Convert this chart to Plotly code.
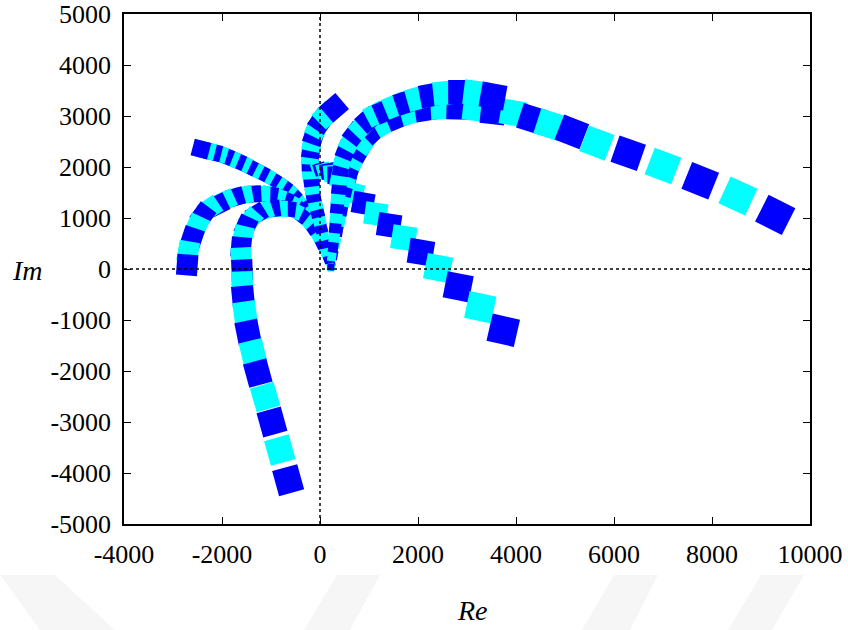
import numpy as np
import plotly.graph_objects as go

# ---- root-locus branches (real part, imaginary part) ----
re_left_upper = [220, 160, 100, 40, -20, -80, -140, -200, -290, -370,
                 -450, -530, -630, -730, -840, -960, -1080, -1200, -1330, -1450,
                 -1570, -1690, -1820, -1940, -2060, -2180, -2310, -2430]
im_left_upper = [40, 200, 350, 510, 670, 800, 940, 1060, 1180, 1270,
                 1370, 1460, 1550, 1620, 1690, 1760, 1830, 1890, 1950, 2010,
                 2070, 2120, 2170, 2220, 2260, 2290, 2320, 2350]

re_left_mid = [220, 220, 180, 120, 40, -40, -140, -240, -350, -450,
               -570, -710, -860, -1020, -1180, -1370, -1550, -1730, -1920, -2080,
               -2240, -2390, -2510, -2610, -2690, -2710]
im_left_mid = [20, 140, 290, 450, 610, 760, 900, 1020, 1130, 1220,
               1300, 1370, 1420, 1460, 1470, 1470, 1450, 1410, 1350, 1260,
               1200, 1060, 850, 610, 340, 80]

re_left_low = [220, 160, 100, 20, -60, -160, -270, -390, -510, -650,
               -820, -980, -1140, -1290, -1410, -1510, -1570, -1610, -1610, -1590,
               -1590, -1570, -1530, -1470, -1370, -1270, -1120, -980, -820, -650]
im_left_low = [40, 200, 350, 510, 670, 820, 960, 1060, 1140, 1180,
               1180, 1180, 1140, 1080, 980, 840, 650, 430, 220, -20,
               -260, -550, -860, -1240, -1630, -2040, -2510, -3000, -3550, -4140]

re_up = [220, 180, 140, 100, 60, 20, -20, -60, -100, -140,
         -160, -180, -200, -200, -200, -180, -160, -120, -60, 20, 120, 290]
im_up = [40, 200, 350, 510, 670, 820, 980, 1140, 1290, 1450,
         1610, 1770, 1920, 2080, 2220, 2350, 2490, 2630, 2770, 2900, 3020, 3160]

re_down = [-80, 0, 80, 160, 240, 330, 410, 510, 670, 880,
           1140, 1410, 1710, 2060, 2410, 2820, 3270, 3740]
im_down = [1980, 1960, 1940, 1920, 1880, 1840, 1780, 1670, 1490, 1290,
           1080, 860, 610, 330, 20, -350, -750, -1200]

re_right = [220, 270, 310, 350, 390, 430, 470, 510, 570, 630,
            710, 800, 900, 1080, 1310, 1570, 1860, 2160, 2490, 2820,
            3160, 3530, 3940, 4330, 4690, 5140, 5650, 6290, 7000, 7760,
            8530, 9290]
im_right = [40, 270, 510, 750, 960, 1180, 1370, 1570, 1760, 1960,
            2140, 2310, 2470, 2690, 2840, 2960, 3060, 3120, 3160, 3160,
            3140, 3080, 3060, 2940, 2830, 2690, 2470, 2270, 2020, 1730,
            1430, 1060]

re_arc = [220, 240, 270, 290, 310, 330, 350, 370, 390, 410,
          430, 470, 530, 610, 710, 840, 980, 1140, 1330, 1530,
          1760, 2000, 2270, 2550, 2860, 3180, 3530]
im_arc = [40, 240, 430, 630, 820, 1020, 1220, 1410, 1610, 1800,
          1980, 2160, 2330, 2490, 2650, 2780, 2920, 3040, 3100, 3200,
          3270, 3350, 3410, 3450, 3470, 3450, 3390]

x_ticks = [-4000, -2000, 0, 2000, 4000, 6000, 8000, 10000]
x_labels = ["-4000", "-2000", "0", "2000", "4000", "6000", "8000", "10000"]
y_ticks = [-5000, -4000, -3000, -2000, -1000, 0, 1000, 2000, 3000, 4000, 5000]
y_labels = ["-5000", "-4000", "-3000", "-2000", "-1000", "0",
            "1000", "2000", "3000", "4000", "5000"]

# ---- page geometry ----
W, H = 848, 630
ML, MR, MT, MB = 124, 38, 14, 106
PW, PH = W - ML - MR, H - MT - MB
XR, YR = (-4000, 10000), (-5000, 5000)
SX = PW / (XR[1] - XR[0])
SY = PH / (YR[1] - YR[0])

BLUE, CYAN = "#0000ff", "#00ffff"
FONT = "Liberation Serif, Times New Roman, serif"


def heading(xs, ys):
    """Screen-space direction of travel (degrees, clockwise) at each point."""
    dx = np.gradient(np.asarray(xs, float)) * SX
    dy = -np.gradient(np.asarray(ys, float)) * SY
    return np.degrees(np.arctan2(dy, dx))


def branch(xs, ys, s0, s1, tilt=0.0):
    n = len(xs)
    t = np.linspace(0, 1, n)
    colors = [BLUE if (n - 1 - i) % 2 == 0 else CYAN for i in range(n)]
    return go.Scatter(
        x=xs, y=ys, mode="markers", showlegend=False, hoverinfo="skip",
        marker=dict(symbol="square", size=s0 + (s1 - s0) * t ** 0.7,
                    color=colors, angle=heading(xs, ys) + tilt,
                    line=dict(width=0), opacity=1),
    )


fig = go.Figure()
fig.add_trace(branch(re_left_upper, im_left_upper, 7, 17))
fig.add_trace(branch(re_left_mid, im_left_mid, 7, 21))
fig.add_trace(branch(re_left_low, im_left_low, 7, 26))
fig.add_trace(branch(re_up, im_up, 7, 21))
fig.add_trace(branch(re_down, im_down, 10, 28, tilt=-32))
fig.add_trace(branch(re_right, im_right, 7, 30))
fig.add_trace(branch(re_arc, im_arc, 7, 25))


def paper(px, py):
    return (px - ML) / PW, (MT + PH - py) / PH


# faint background watermark bands under the axis title
bands = [
    [(0, 575), (55, 575), (115, 630), (40, 630)],
    [(337, 575), (380, 575), (350, 630), (304, 630)],
    [(614, 575), (658, 575), (630, 630), (582, 630)],
    [(761, 575), (804, 575), (772, 630), (728, 630)],
]
shapes = []
for quad in bands:
    pts = [paper(*p) for p in quad]
    path = "M " + " L ".join(f"{a:.4f},{b:.4f}" for a, b in pts) + " Z"
    shapes.append(dict(type="path", xref="paper", yref="paper", path=path,
                       fillcolor="#f6f6f6", line=dict(width=0), layer="below"))

# dotted real / imaginary axes
shapes.append(dict(type="line", xref="x", yref="paper", x0=0, x1=0, y0=0, y1=1,
                   line=dict(color="black", width=1.5, dash="dot"), layer="above"))
shapes.append(dict(type="line", xref="paper", yref="y", x0=0, x1=1, y0=0, y1=0,
                   line=dict(color="black", width=1.5, dash="dot"), layer="above"))

axis_common = dict(
    showgrid=False, zeroline=False, showline=True, linecolor="black",
    linewidth=1.5, mirror="ticks", ticks="inside", ticklen=7, tickwidth=1.2,
    tickcolor="black", automargin=False,
    tickfont=dict(family=FONT, size=26, color="black"),
)

rx, ry = paper(472, 610)
ix, iy = paper(27, 270)
title_font = dict(family=FONT, size=28, color="black")

fig.update_layout(
    width=W, height=H,
    margin=dict(l=ML, r=MR, t=MT, b=MB),
    paper_bgcolor="white", plot_bgcolor="white",
    xaxis=dict(range=list(XR), tickvals=x_ticks, ticktext=x_labels,
               ticklabelstandoff=6, **axis_common),
    yaxis=dict(range=list(YR), tickvals=y_ticks, ticktext=y_labels,
               ticklabelstandoff=6, **axis_common),
    shapes=shapes,
    annotations=[
        dict(text="<i>Re</i>", x=rx, y=ry, xref="paper", yref="paper",
             xanchor="center", yanchor="middle", showarrow=False,
             font=title_font),
        dict(text="<i>Im</i>", x=ix, y=iy, xref="paper", yref="paper",
             xanchor="center", yanchor="middle", showarrow=False,
             font=title_font),
    ],
)

fig.write_html("out.html")
